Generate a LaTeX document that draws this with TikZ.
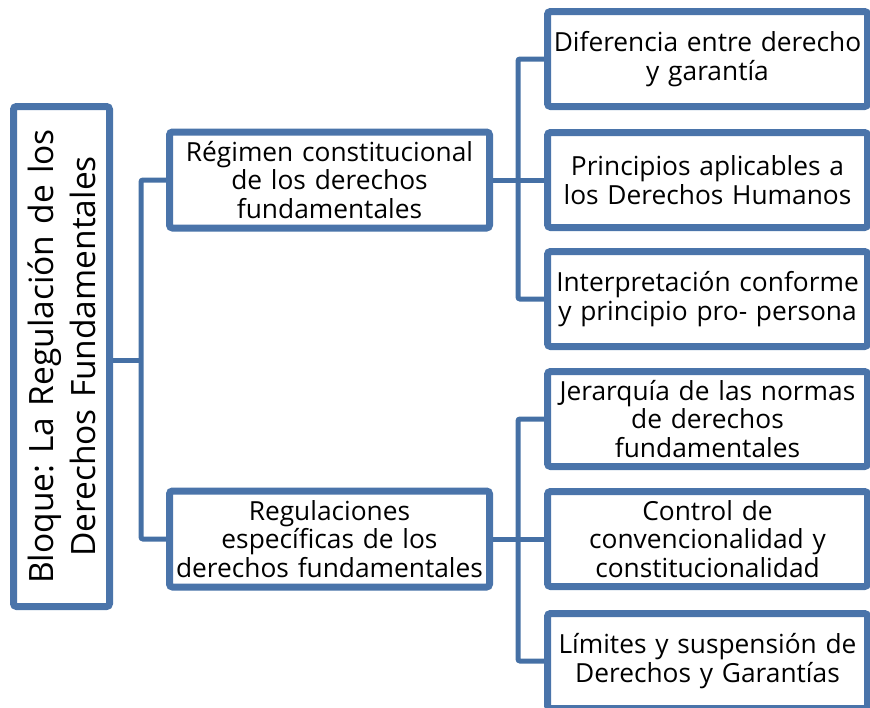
\documentclass[tikz,border=0pt]{standalone}
\usepackage{fontspec}
\setmainfont{Open Sans}
\frenchspacing
\usetikzlibrary{shadows,backgrounds}
\definecolor{boxblue}{HTML}{4A74AA}
\definecolor{lineblue}{HTML}{4570A5}
\begin{document}
\begin{tikzpicture}[x=1pt,y=-1pt,
  box/.style={draw=boxblue, line width=7pt, fill=white, rounded corners=3pt,
    rectangle, align=center, inner sep=0pt, text=black,
    font=\fontsize{26.3}{28.5}\selectfont,
    drop shadow={opacity=0.3, shadow xshift=2pt, shadow yshift=-3pt}},
  leaf/.style={box, minimum width=314pt, minimum height=95pt, text width=320pt},
  mid/.style={box, minimum width=316pt, minimum height=96pt, text width=320pt},
  conn/.style={draw=lineblue, line width=5pt, rounded corners=2pt}]
\useasboundingbox (0,0) rectangle (870,707);

\node[box, rotate=90, minimum width=500pt, minimum height=96pt, text width=500pt,
  font=\fontsize{33.5}{42}\selectfont] (root) at (61.5,356.5)
  {Bloque: La Regulación de los\\Derechos Fundamentales};

\node[mid] (r1) at (329.5,180) {Régimen constitucional\\de los derechos\\fundamentales};
\node[mid] (r2) at (329.5,539) {Regulaciones\\específicas de los\\derechos fundamentales};

\node[leaf] (a1) at (707.5,59) {Diferencia entre derecho\\y garantía};
\node[leaf] (a2) at (707.5,180) {Principios aplicables a\\los Derechos Humanos};
\node[leaf] (a3) at (707.5,299) {Interpretación conforme\\y principio pro- persona};
\node[leaf] (b1) at (707.5,419) {Jerarquía de las normas\\de derechos\\fundamentales};
\node[leaf] (b2) at (707.5,539) {Control de\\convencionalidad y\\constitucionalidad};
\node[leaf] (b3) at (707.5,661) {Límites y suspensión de\\Derechos y Garantías};

\coordinate (j0) at (141,360);
\coordinate (j1) at (518,180);
\coordinate (j2) at (518,539);

\begin{pgfonlayer}{background}
\draw[conn] (root.south |- j0) -- (j0);
\draw[conn] (r1.west) -| (j0) |- (r2.west);
\draw[conn] (r1.east) -- (j1);
\draw[conn] (a1.west) -| (j1) |- (a3.west);
\draw[conn] (j1) -- (a2.west);
\draw[conn] (r2.east) -- (j2);
\draw[conn] (b1.west) -| (j2) |- (b3.west);
\draw[conn] (j2) -- (b2.west);
\end{pgfonlayer}
\end{tikzpicture}
\end{document}
